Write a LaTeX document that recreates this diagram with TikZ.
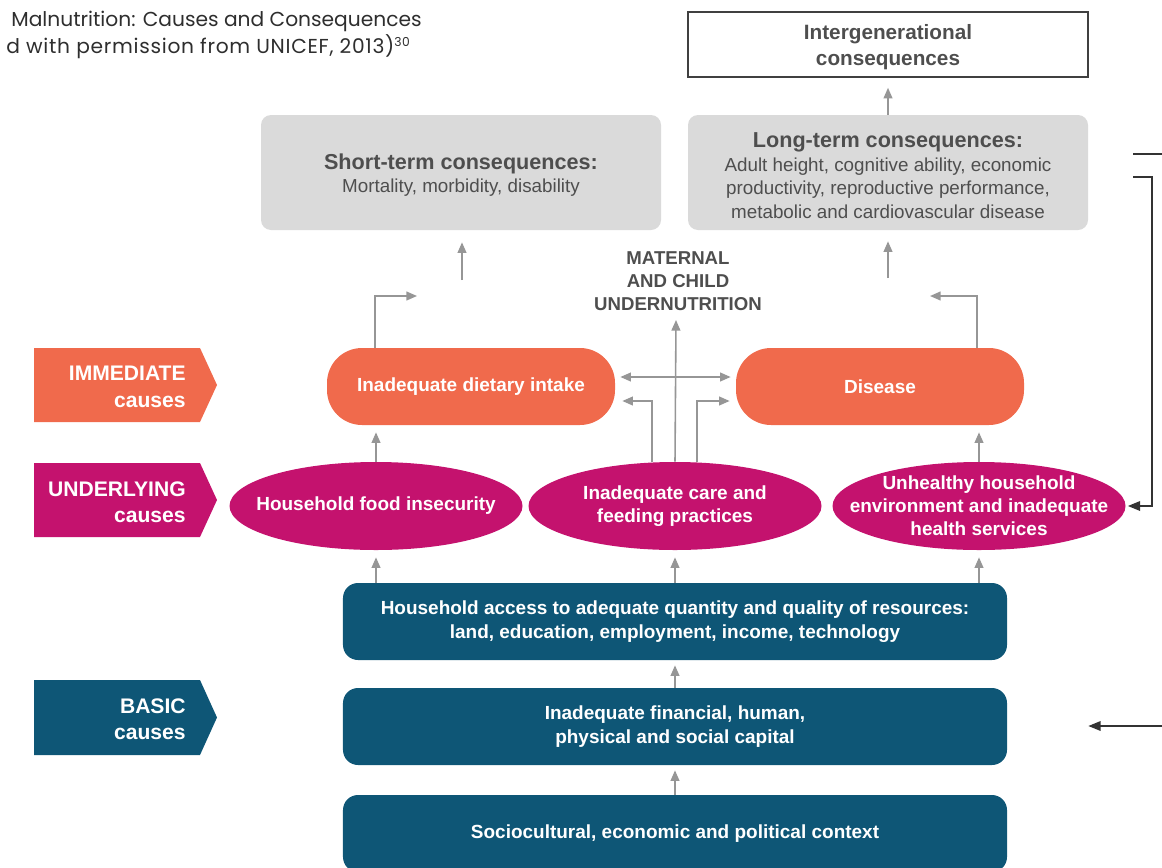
\documentclass[tikz,border=0pt]{standalone}
\usepackage{fontspec}
\setmainfont{Liberation Sans}
\newfontfamily\titlefont{Poppins}
\newfontfamily\titlefontwide[LetterSpace=3.5]{Poppins}
\usetikzlibrary{arrows.meta,shapes.geometric}

\definecolor{immorange}{RGB}{240,106,76}
\definecolor{undmagenta}{RGB}{196,18,110}
\definecolor{basicteal}{RGB}{14,86,118}
\definecolor{consgray}{RGB}{218,218,218}
\definecolor{textgray}{RGB}{78,78,78}
\definecolor{arrowgray}{RGB}{150,150,150}

\newcommand\conshead[1]{{\bfseries\fontsize{12.3}{14}\selectfont #1}}

\tikzset{
  arr/.style={draw=arrowgray, line width=0.9pt, -{Triangle[length=6pt,width=5pt]}},
  fb/.style={draw=black!80, line width=0.8pt},
  fbarr/.style={fb, -{Triangle[length=7pt,width=5.5pt]}},
  interbox/.style={draw=black!75, line width=0.9pt, minimum width=80mm, minimum height=13mm,
    align=center, text=textgray, font=\bfseries\fontsize{11.8}{14.7}\selectfont},
  consbox/.style={rounded corners=2mm, fill=consgray, minimum width=80mm, minimum height=23mm,
    align=center, text=textgray, font=\fontsize{10.7}{13.5}\selectfont},
  immbox/.style={rounded corners=7mm, fill=immorange, minimum width=57.6mm, minimum height=15.4mm,
    text=white, font=\bfseries\fontsize{10.8}{13}\selectfont},
  undell/.style={ellipse, fill=undmagenta, minimum width=58.6mm, minimum height=17.6mm,
    inner xsep=-6mm, inner ysep=-1mm, text=white, align=center,
    font=\bfseries\fontsize{10.8}{13}\selectfont},
  basicbox/.style={rounded corners=3mm, fill=basicteal, minimum width=132.8mm, minimum height=15.4mm,
    text=white, align=center, font=\bfseries\fontsize{10.8}{13.6}\selectfont},
  tagtext/.style={anchor=east, inner sep=0pt, text=white, align=right, font=\bfseries\fontsize{12}{15}\selectfont},
  mcutext/.style={align=center, text=textgray, font=\bfseries\fontsize{10.6}{13}\selectfont},
  titletext/.style={anchor=east, inner sep=0pt, text=black!82, font=\titlefont\fontsize{11.5}{13}\selectfont},
}

\begin{document}
\begin{tikzpicture}[x=0.2mm, y=-0.2mm]
\useasboundingbox (0,0) rectangle (1162,867);

% caption, cut off at the left
\node[titletext] (title1) at (422,21) {Malnutrition: Causes and Consequences};
\node[titletext] (title2) at (411,47) {\titlefontwide d with permission from UNICEF, 2013)\textsuperscript{\fontsize{7}{8}\selectfont 30}};

% cause tags on the left
\fill[immorange] (34,348) -- (200,348) -- (217,385) -- (200,422) -- (34,422) -- cycle;
\node[tagtext] (immtag) at (186,387) {IMMEDIATE\\causes};
\fill[undmagenta] (34,463) -- (200,463) -- (217,500) -- (200,537) -- (34,537) -- cycle;
\node[tagtext] (undtag) at (186,502) {UNDERLYING\\causes};
\fill[basicteal] (34,680) -- (200,680) -- (217,717.5) -- (200,755) -- (34,755) -- cycle;
\node[tagtext] (bastag) at (186,719) {BASIC\\causes};

% consequences
\node[interbox] (inter) at (888,44.5) {\rule{0pt}{12pt}Intergenerational\\consequences};
\node[consbox] (st) at (461,172.5) {\rule{0pt}{12pt}\conshead{Short-term consequences:}\\Mortality, morbidity, disability};
\node[consbox] (lt) at (888,172.5) {\rule{0pt}{12pt}\conshead{Long-term consequences:}\\Adult height, cognitive ability, economic\\productivity, reproductive performance,\\metabolic and cardiovascular disease};

\node[mcutext] (mcutxt) at (678,281) {MATERNAL\\AND CHILD\\UNDERNUTRITION};

% immediate causes
\node[immbox] (diet) at (471,386.5) {Inadequate dietary intake};
\node[immbox] (disease) at (880,386.5) {Disease};

% underlying causes
\node[undell] (food) at (376,506) {Household food insecurity};
\node[undell] (care) at (675,506) {Inadequate care and\\feeding practices};
\node[undell] (env) at (979,506) {Unhealthy household\\environment and inadequate\\health services};

% basic causes
\node[basicbox] (access) at (675,621.5) {Household access to adequate quantity and quality of resources:\\land, education, employment, income, technology};
\node[basicbox] (capital) at (675,726.5) {Inadequate financial, human,\\physical and social capital};
\node[basicbox] (context) at (675,833.5) {Sociocultural, economic and political context};

% free ends
\coordinate (stfoot) at (462,280);
\coordinate (ltfoot) at (888,278);
\coordinate (dietout) at (417,296);
\coordinate (diseaseout) at (930,296);
\coordinate (mcu) at (676,320);
\coordinate (ltexit1) at (1133,154);
\coordinate (edge1) at (1162,154);
\coordinate (ltexit2) at (1133,177);
\coordinate (edge3) at (1162,726);

% gray arrows
\draw[arr, shorten >=2mm] (lt.north) -- (inter.south);
\draw[arr, shorten >=2.4mm] (stfoot) -- (stfoot |- st.south);
\draw[arr, shorten >=2.2mm] (ltfoot) -- (ltfoot |- lt.south);
\draw[arr] ([xshift=-19.2mm]diet.north) |- (dietout);
\draw[arr] ([xshift=19.4mm]disease.north) |- (diseaseout);
\draw[arr] (care.north) -- (mcu);
\draw[arr, {Triangle[length=6pt,width=5pt]}-{Triangle[length=6pt,width=5pt]}, shorten <=1mm, shorten >=1mm]
  ([yshift=1.9mm]diet.east) -- ([yshift=1.9mm]disease.west);
\draw[arr, shorten >=1.4mm] ([xshift=-4.6mm]care.north) |- ([yshift=-2.9mm]diet.east);
\draw[arr, shorten >=1.2mm] ([xshift=4.4mm]care.north) |- ([yshift=-2.9mm]disease.west);
\draw[arr, shorten >=1.4mm] (food.north) -- (food.north |- diet.south);
\draw[arr, shorten >=1.4mm] (env.north) -- (env.north |- disease.south);
\foreach \n in {food,care,env}
  \draw[arr, shorten >=1.4mm] (access.north -| \n) -- (\n.south);
\draw[arr, shorten >=1mm] (capital.north) -- (access.south);
\draw[arr, shorten >=1mm] (context.north) -- (capital.south);

% black feedback lines
\draw[fb] (ltexit1) -- (edge1);
\draw[fbarr, shorten >=0.4mm] (ltexit2) -- ++(3.8mm,0) |- (env.east);
\draw[fbarr, shorten >=16.2mm] (edge3) -- (edge3 -| capital.east);

\end{tikzpicture}
\end{document}
